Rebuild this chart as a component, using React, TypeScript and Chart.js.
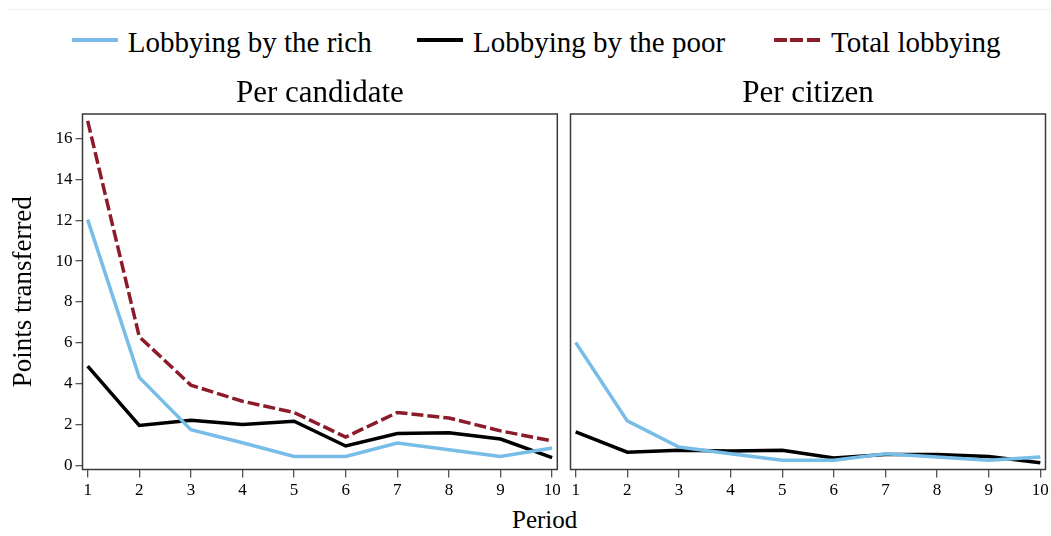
import React, { useEffect, useRef } from 'react';
import { Chart, registerables } from 'chart.js';
Chart.register(...registerables);

const periods = [1, 2, 3, 4, 5, 6, 7, 8, 9, 10];
const seriesLabels = ['Lobbying by the rich', 'Lobbying by the poor', 'Total lobbying'];
const panelTitles = ['Per candidate', 'Per citizen'];
const candidateRich = [12.03, 4.31, 1.75, 1.11, 0.44, 0.44, 1.1, 0.77, 0.44, 0.85];
const candidatePoor = [4.86, 1.96, 2.21, 2.0, 2.16, 0.95, 1.56, 1.6, 1.29, 0.38];
const candidateTotal = [16.86, 6.3, 3.93, 3.14, 2.59, 1.39, 2.59, 2.32, 1.69, 1.2];
const citizenRich = [6.02, 2.18, 0.9, 0.57, 0.25, 0.25, 0.57, 0.41, 0.25, 0.41];
const citizenPoor = [1.64, 0.65, 0.74, 0.7, 0.74, 0.36, 0.54, 0.54, 0.44, 0.13];

const COLORS = { rich: '#78bde8', poor: '#000000', total: '#8c1c2a' };
const FONT = "'Liberation Serif', 'Times New Roman', serif";

const framePlugin = {
  id: 'frame',
  afterDraw(chart: any) {
    const { ctx, chartArea } = chart;
    const { left, top, right, bottom } = chartArea;
    ctx.save();
    ctx.strokeStyle = '#3a3a3a';
    ctx.lineWidth = 1.5;
    ctx.strokeRect(left, top, right - left, bottom - top);
    ctx.restore();
  },
};

const pts = (vals: number[]) => vals.map((v, i) => ({ x: periods[i], y: v }));

function lineDs(label: string, vals: number[], color: string, dashed: boolean, order: number) {
  return {
    label,
    data: pts(vals),
    borderColor: color,
    backgroundColor: color,
    borderWidth: 3.5,
    borderDash: dashed ? [12, 4] : [],
    pointRadius: 0,
    tension: 0,
    fill: false,
    order,
  };
}

function makeOptions(title: string, showY: boolean, padL: number, padR: number) {
  const y: any = {
    type: 'linear' as const,
    min: -0.2,
    max: 17.2,
    display: showY,
    title: {
      display: true,
      text: 'Points transferred',
      color: '#000',
      font: { family: FONT, size: 27 },
      padding: { top: 7.7, bottom: 0 },
    },
    ticks: {
      stepSize: 2,
      includeBounds: false,
      color: '#000',
      padding: 3,
      font: { family: FONT, size: 17 },
    },
    grid: { display: true, drawOnChartArea: false, drawTicks: true, tickLength: 7, color: '#555', lineWidth: 1.3 },
    border: { display: false },
  };
  if (showY) y.afterFit = (s: any) => { s.width = 82.5; s.paddingTop = 0; s.paddingBottom = 0; };
  return {
    responsive: false,
    animation: false as const,
    layout: { padding: { left: padL, right: padR, top: 0, bottom: 0 } },
    plugins: {
      legend: { display: false },
      tooltip: { enabled: false },
      title: {
        display: true,
        text: title,
        color: '#000',
        font: { family: FONT, size: 31, weight: 'normal' as const },
        padding: { top: 5, bottom: 1.8 },
        fullSize: false,
      },
    },
    scales: {
      x: {
        type: 'linear' as const,
        min: 0.9,
        max: 10.1,
        afterFit: (s: any) => { s.height = 30.5; s.paddingLeft = 0; s.paddingRight = 0; },
        ticks: {
          stepSize: 1,
          includeBounds: false,
          color: '#000',
          padding: 3,
          maxRotation: 0,
          font: { family: FONT, size: 17 },
        },
        grid: { display: true, drawOnChartArea: false, drawTicks: true, tickLength: 8, color: '#555', lineWidth: 1.3 },
        border: { display: false },
      },
      y,
    },
  };
}

export default function App() {
  const leftRef = useRef<HTMLCanvasElement>(null);
  const rightRef = useRef<HTMLCanvasElement>(null);

  useEffect(() => {
    const left = new Chart(leftRef.current!, {
      type: 'line',
      data: {
        datasets: [
          lineDs(seriesLabels[0], candidateRich, COLORS.rich, false, 0),
          lineDs(seriesLabels[1], candidatePoor, COLORS.poor, false, 1),
          lineDs(seriesLabels[2], candidateTotal, COLORS.total, true, 2),
        ],
      },
      options: makeOptions(panelTitles[0], true, 0, 4.7) as any,
      plugins: [framePlugin],
    });
    const right = new Chart(rightRef.current!, {
      type: 'line',
      data: {
        datasets: [
          lineDs(seriesLabels[0], citizenRich, COLORS.rich, false, 0),
          lineDs(seriesLabels[1], citizenPoor, COLORS.poor, false, 1),
        ],
      },
      options: makeOptions(panelTitles[1], false, 8.5, 5.5) as any,
      plugins: [framePlugin],
    });
    return () => {
      left.destroy();
      right.destroy();
    };
  }, []);

  const textStyle = (left: number, top: number, size: number): React.CSSProperties => ({
    position: 'absolute',
    left,
    top,
    fontFamily: FONT,
    fontSize: size,
    lineHeight: `${size}px`,
    color: '#000',
    whiteSpace: 'nowrap',
  });
  const swatch = (left: number, bg: string): React.CSSProperties => ({
    position: 'absolute',
    left,
    top: 38.3,
    width: 46,
    height: 3.5,
    background: bg,
  });

  return (
    <div style={{ position: 'absolute', left: 0, top: 0, width: 1051, height: 536, background: '#fff', overflow: 'hidden' }}>
      <div style={{ position: 'absolute', left: 8, top: 9, width: 1043, height: 1, background: '#f2f2f2' }} />
      <div style={swatch(72, COLORS.rich)} />
      <div style={textStyle(127.7, 28, 29)}>{seriesLabels[0]}</div>
      <div style={swatch(417, COLORS.poor)} />
      <div style={textStyle(473, 28, 29)}>{seriesLabels[1]}</div>
      <div style={swatch(774, `repeating-linear-gradient(to right, ${COLORS.total} 0px, ${COLORS.total} 13px, transparent 13px, transparent 16.5px)`)} />
      <div style={textStyle(831, 28, 29)}>{seriesLabels[2]}</div>
      <canvas ref={leftRef} width={562} height={430} style={{ position: 'absolute', left: 0, top: 70 }} />
      <canvas ref={rightRef} width={489} height={430} style={{ position: 'absolute', left: 562, top: 70 }} />
      <div style={textStyle(512, 507.4, 25)}>Period</div>
    </div>
  );
}
